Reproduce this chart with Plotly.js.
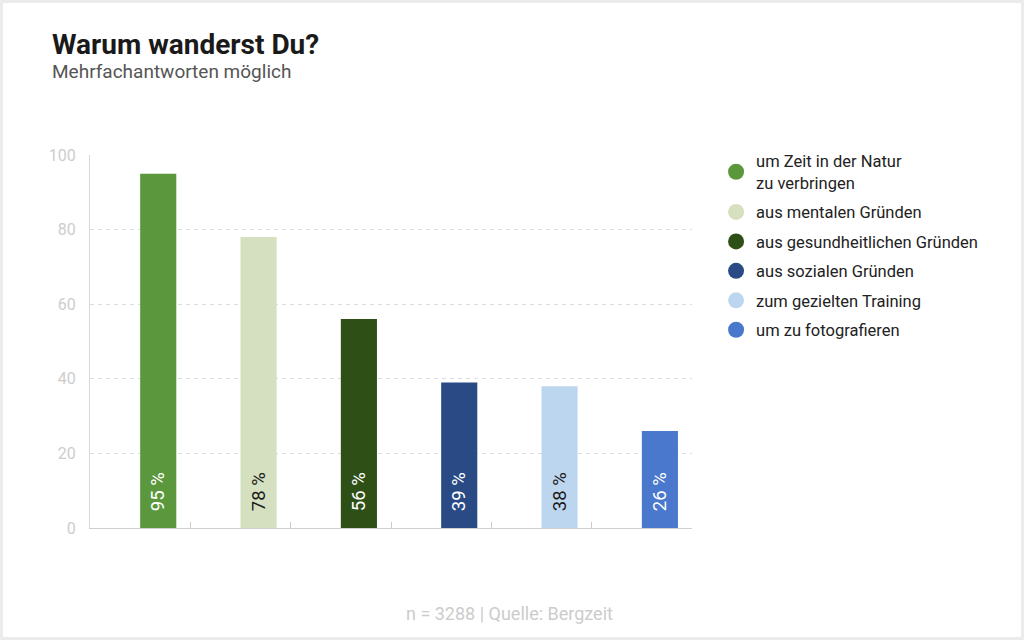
<!DOCTYPE html>
<html>
<head>
<meta charset="utf-8">
<script src="https://cdn.plot.ly/plotly-3.0.1.min.js"></script>
<style>
html,body{margin:0;padding:0;background:#fff;}
#wrap{width:1024px;height:640px;box-sizing:border-box;border:3px solid #ebebeb;position:relative;overflow:hidden;}
#chart{position:absolute;left:-3px;top:-3px;width:1024px;height:640px;}
</style>
</head>
<body>
<div id="wrap"><div id="chart"></div></div>
<script>
const categories = [
  "um Zeit in der Natur<br>zu verbringen",
  "aus mentalen Gründen",
  "aus gesundheitlichen Gründen",
  "aus sozialen Gründen",
  "zum gezielten Training",
  "um zu fotografieren"
];
const values = [95, 78, 56, 39, 38, 26];
const barColors = ["#5b983d", "#d4e0c0", "#2e5016", "#2a4a85", "#bdd6f0", "#4a78cc"];
const labelColors = ["#ffffff", "#1a1a1a", "#ffffff", "#ffffff", "#1a1a1a", "#ffffff"];
const yTicks = [0, 20, 40, 60, 80, 100];

const barText = values.map(v => "\u00a0\u00a0\u00a0" + v + " %");

const traces = [{
  type: "bar",
  x: categories,
  y: values,
  width: 0.36,
  offset: 0,
  marker: {color: barColors, line: {width: 0}},
  text: barText,
  textposition: "inside",
  insidetextanchor: "start",
  textangle: -90,
  textfont: {family: "Roboto", size: 18.5, color: labelColors},
  hoverinfo: "skip",
  showlegend: false,
  cliponaxis: false
}];

categories.forEach((c, i) => {
  traces.push({
    type: "scatter",
    mode: "markers",
    x: [null],
    y: [null],
    name: c,
    legendgroup: "g" + i,
    marker: {color: barColors[i], size: 20, symbol: "circle"},
    showlegend: true
  });
});

const layout = {
  width: 1024,
  height: 640,
  paper_bgcolor: "rgba(0,0,0,0)",
  plot_bgcolor: "rgba(0,0,0,0)",
  margin: {l: 90, r: 332, t: 155, b: 112},
  font: {family: "Roboto", color: "#222"},
  bargap: 0.64,
  xaxis: {
    type: "category",
    showticklabels: false,
    tickson: "boundaries",
    ticks: "inside",
    ticklen: 6,
    tickcolor: "#cccccc",
    showgrid: false,
    showline: true,
    linecolor: "#d0d0d0",
    linewidth: 1,
    zeroline: false,
    fixedrange: true
  },
  yaxis: {
    range: [0, 100],
    tickvals: yTicks,
    ticktext: yTicks.map(String),
    tickfont: {family: "Roboto", size: 16, color: "#cdcdcd"},
    ticklabelstandoff: 10,
    showgrid: true,
    gridcolor: "#dddddd",
    griddash: "4px,4px",
    gridwidth: 1,
    showline: true,
    linecolor: "#d8d8d8",
    zeroline: false,
    fixedrange: true
  },
  legend: {
    x: 1.04,
    xanchor: "left",
    y: 1.03,
    yanchor: "top",
    font: {family: "Roboto", size: 16.5, color: "#222"},
    tracegroupgap: 5,
    itemsizing: "trace",
    bgcolor: "rgba(0,0,0,0)"
  },
  annotations: [
    {text: "<b>Warum wanderst Du?</b>", xref: "paper", yref: "paper",
     x: -0.066, y: 1.345, xanchor: "left", yanchor: "top", showarrow: false,
     font: {family: "Roboto", size: 28, color: "#1a1a1a"}},
    {text: "Mehrfachantworten möglich", xref: "paper", yref: "paper",
     x: -0.066, y: 1.26, xanchor: "left", yanchor: "top", showarrow: false,
     font: {family: "Roboto", size: 19, color: "#555555"}},
    {text: "n = 3288 | Quelle: Bergzeit", xref: "paper", yref: "paper",
     x: 0.697, y: -0.228, xanchor: "center", yanchor: "middle", showarrow: false,
     font: {family: "Roboto", size: 18, color: "#cccccc"}}
  ]
};

Plotly.newPlot("chart", traces, layout, {displayModeBar: false, staticPlot: true});
</script>
</body>
</html>
